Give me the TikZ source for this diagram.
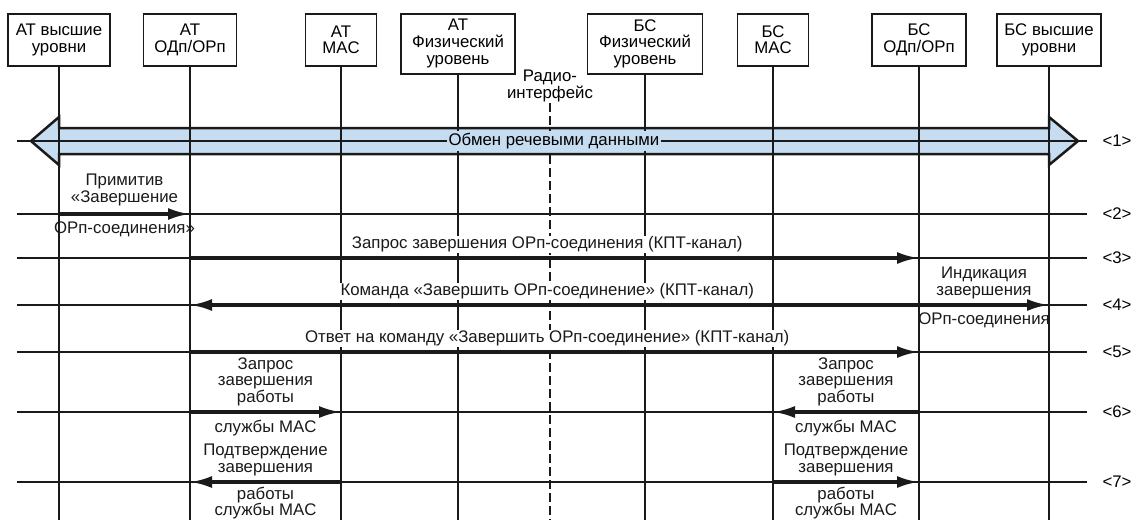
\documentclass[tikz,border=0pt]{standalone}
\usepackage{fontspec}
\setmainfont{Liberation Sans}
\usetikzlibrary{arrows.meta,calc,positioning}
\definecolor{bandblue}{HTML}{C6DCF0}
\definecolor{inkblack}{HTML}{1A1A1A}
\newcommand{\txtfont}{\fontsize{16.8}{16.8}\selectfont}
\tikzset{
  unitbox/.style={draw=inkblack,line width=1.5pt,align=center,anchor=north,inner sep=0pt,minimum height=52pt,font=\txtfont},
  lifeline/.style={inkblack,line width=1.5pt},
  radioline/.style={inkblack,line width=1.3pt,dash pattern=on 9pt off 4pt},
  rowline/.style={inkblack,line width=1.2pt},
  msg/.style={-{Latex[length=22pt,width=12pt]},inkblack,line width=3.5pt},
  msglabel/.style={inner sep=1pt,align=center,font=\txtfont},
  cutlabel/.style={msglabel,fill=white},
  rownum/.style={font=\txtfont,inner sep=1pt},
  band/.style={fill=bandblue,draw=inkblack,line width=2.5pt,line join=miter}
}

\begin{document}
\begin{tikzpicture}[x=1pt,y=-1pt]
\useasboundingbox (0,0) rectangle (1135,520);
\coordinate (bot) at (0,520);
% protocol entities
\node[unitbox,minimum width=102pt] (ath) at (59,13) {АТ высшие\\уровни};
\node[unitbox,minimum width=93pt] (atodp) at (190,13) {АТ\\ОДп/ОРп};
\node[unitbox,minimum width=71pt] (atmac) at (341,13) {АТ\\MAC};
\node[unitbox,minimum width=114pt,minimum height=60pt] (atphy) at (458,13) {АТ\\Физический\\уровень};
\node[unitbox,minimum width=115pt,minimum height=60pt] (bsphy) at (645,13) {БС\\Физический\\уровень};
\node[unitbox,minimum width=71pt] (bsmac) at (773,13) {БС\\MAC};
\node[unitbox,minimum width=94pt] (bsodp) at (919,13) {БС\\ОДп/ОРп};
\node[unitbox,minimum width=104pt] (bsh) at (1049,13) {БС высшие\\уровни};
\node[msglabel] (radio) at (550,86) {Радио-\\интерфейс};
\foreach \k/\y in {1/141,2/214,3/258,4/305,5/352,6/412,7/482}
  \coordinate (r\k) at (0,\y);
% voice exchange band
\path (ath.south |- r1) coordinate (bl) (bsh.south |- r1) coordinate (br);
\draw[band] ($(bl)+(-28,0)$) -- ++(28,-24) -- ++(0,11) -- ($(br)+(0,-13)$) -- ++(0,-11)
  -- ++(29,24) -- ++(-29,24) -- ++(0,-11) -- ($(bl)+(0,13)$) -- ++(0,11) -- cycle;
% lifelines
\foreach \n in {ath,atodp,atmac,atphy,bsphy,bsmac,bsodp,bsh}
  \draw[lifeline] (\n.south) -- (\n.south |- bot);
\draw[radioline] (radio.south) -- (radio.south |- bot);
% rows
\foreach \k/\y in {1/141,2/214,3/258,4/305,5/352,6/412,7/482}{
  \draw[rowline] (17,\y) coordinate (rs\k) -- (1087,\y) coordinate (re\k);
  \node[rownum] (n\k) at (1117,\y) {<\k>};
}
\node[fill=bandblue,font=\txtfont,inner sep=2pt] (voice) at ($(bl)!0.5!(br)$) {Обмен речевыми данными};
% messages
\draw[msg] (ath.south |- r2) -- node[msglabel,above=5pt] (m2a) {Примитив\\«Завершение}
  node[msglabel,below=5pt] (m2b) {ОРп-соединения»} (atodp.south |- r2);
\draw[msg] (atodp.south |- r3) -- node[cutlabel,above=3pt,pos=0.49] (m3) {Запрос завершения ОРп-соединения (КПТ-канал)} (bsodp.south |- r3);
\draw[msg] (bsodp.south |- r4) -- node[cutlabel,above=3pt,pos=0.51] (m4) {Команда «Завершить ОРп-соединение» (КПТ-канал)} (atodp.south |- r4);
\draw[msg] (bsodp.south |- r4) -- node[msglabel,above=3pt] (m4a) {Индикация\\завершения}
  node[msglabel,below=5pt] (m4b) {ОРп-соединения} (bsh.south |- r4);
\draw[msg] (atodp.south |- r5) -- node[cutlabel,above=3pt,pos=0.49] (m5) {Ответ на команду «Завершить ОРп-соединение» (КПТ-канал)} (bsodp.south |- r5);
\draw[msg] (atodp.south |- r6) -- node[msglabel,above=3pt] (m6a) {Запрос\\завершения\\работы}
  node[msglabel,below=5pt] (m6b) {службы MAC} (atmac.south |- r6);
\draw[msg] (bsodp.south |- r6) -- node[msglabel,above=3pt] (m6c) {Запрос\\завершения\\работы}
  node[msglabel,below=5pt] (m6d) {службы MAC} (bsmac.south |- r6);
\draw[msg] (atmac.south |- r7) -- node[msglabel,above=3pt] (m7a) {Подтверждение\\завершения}
  node[msglabel,below=2pt] (m7b) {работы\\службы MAC} (atodp.south |- r7);
\draw[msg] (bsmac.south |- r7) -- node[msglabel,above=3pt] (m7c) {Подтверждение\\завершения}
  node[msglabel,below=2pt] (m7d) {работы\\службы MAC} (bsodp.south |- r7);
\end{tikzpicture}
\end{document}
